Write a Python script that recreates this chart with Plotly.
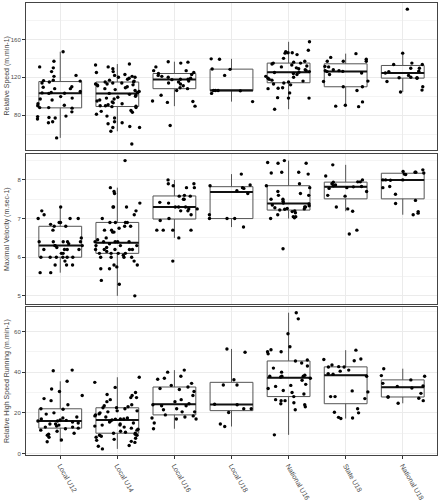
import numpy as np
import plotly.graph_objects as go

categories = ["Local U12", "Local U14", "Local U16", "Local U18",
              "National U16", "State U18", "National U18"]

# Panel 1: Relative Speed (m.min-1)
speed_local_u12 = [147, 137, 131, 130, 126, 122, 121, 117, 116.5, 116, 115, 114, 110, 109.5, 108, 108,
                   105, 104, 103.5, 103, 103.2, 99.6, 98, 97, 96, 92, 90.5, 90, 88, 88, 87.4, 83.5, 79,
                   78.5, 77.5, 77, 76, 73, 72, 56]
speed_local_u14 = [134, 133, 131, 129, 126, 125, 123, 122, 121, 120, 120, 119, 118, 117, 116, 115, 115,
                   114, 114, 113, 113, 112, 112, 111, 110, 109, 108, 107, 106, 105, 104, 103, 102, 101,
                   100, 99, 98, 97, 96, 95, 94, 93, 92, 91, 90, 90, 89, 88, 89.5, 85, 84, 83, 81, 79,
                   77, 73, 72, 71, 68, 67, 67, 63, 49.5]
speed_local_u16 = [136.5, 136, 135, 131, 127, 127, 125, 124, 123, 122, 121, 120, 119, 118, 118, 117.5,
                   116, 115, 114, 113, 111, 109, 108, 106, 101, 95, 94.5, 93.5, 89.5, 69]
speed_local_u18 = [139.5, 139, 128.7, 128.4, 122, 106, 106, 106, 105.7, 103, 94.3]
speed_national_u16 = [157.5, 148.5, 147, 146, 146, 145.5, 144, 140, 137, 136, 135, 135, 134, 133, 132,
                      131, 130, 129, 128, 127, 126, 125.3, 125, 124, 123, 121, 120, 119, 118, 117, 116,
                      115, 114, 113, 112, 109, 108.5, 108, 103.5, 98.5, 98, 98, 86.3]
speed_state_u18 = [145, 141, 139, 137, 137, 137, 131.5, 131, 128, 127, 127, 126.3, 126, 124.5, 123, 116,
                   115.5, 110, 110, 106, 94, 90.5, 89.5, 89]
speed_national_u18 = [192, 145.5, 135, 133.5, 133.5, 129.5, 129.5, 126.5, 126, 124.5, 122, 120, 119.5,
                      119.5, 119, 115.5, 110, 106.5, 104.5]

# Panel 2: Maximal Velocity (m.sec-1)
vel_local_u12 = [7.3, 7.2, 7.1, 7.0, 7.0, 7.0, 6.9, 6.9, 6.85, 6.8, 6.8, 6.7, 6.5, 6.4, 6.4, 6.4, 6.4,
                 6.4, 6.35, 6.3, 6.3, 6.3, 6.25, 6.2, 6.2, 6.2, 6.2, 6.1, 6.1, 6.0, 6.0, 6.0, 6.0, 6.0,
                 6.0, 5.9, 5.8, 5.8, 5.8, 5.6, 5.6]
vel_local_u14 = [8.5, 7.8, 7.7, 7.65, 7.4, 7.3, 7.3, 7.3, 7.2, 7.1, 7.0, 6.9, 6.9, 6.9, 6.9, 6.8, 6.8,
                 6.75, 6.7, 6.7, 6.65, 6.65, 6.5, 6.45, 6.4, 6.4, 6.4, 6.4, 6.4, 6.35, 6.3, 6.3, 6.3,
                 6.25, 6.2, 6.2, 6.2, 6.2, 6.2, 6.15, 6.1, 6.1, 6.1, 6.1, 6.05, 6.0, 6.0, 6.0, 6.0, 5.9,
                 5.8, 5.8, 5.75, 5.7, 5.7, 5.4, 5.3, 5.0]
vel_local_u16 = [8.0, 7.9, 7.9, 7.85, 7.8, 7.8, 7.6, 7.58, 7.58, 7.5, 7.5, 7.42, 7.4, 7.3, 7.3, 7.3,
                 7.25, 7.25, 7.2, 7.2, 7.1, 7.0, 6.95, 6.7, 6.7, 6.7, 6.7, 6.5, 5.9]
vel_local_u18 = [8.15, 7.87, 7.85, 7.8, 7.78, 7.72, 7.65, 7.1, 7.0, 7.0, 7.0, 6.78]
vel_national_u16 = [8.5, 8.45, 8.43, 8.43, 8.2, 8.2, 8.18, 8.15, 7.9, 7.85, 7.8, 7.7, 7.65, 7.6, 7.6,
                    7.5, 7.5, 7.45, 7.4, 7.38, 7.35, 7.33, 7.3, 7.3, 7.28, 7.26, 7.25, 7.24, 7.22, 7.2,
                    7.18, 7.15, 7.1, 7.05, 7.05, 7.02, 7.0, 6.22]
vel_state_u18 = [8.39, 8.1, 8.0, 7.95, 7.95, 7.94, 7.9, 7.87, 7.85, 7.83, 7.82, 7.8, 7.78, 7.7, 7.6,
                 7.58, 7.3, 7.25, 7.19, 6.7, 6.6]
vel_national_u18 = [8.26, 8.22, 8.2, 8.2, 8.18, 8.15, 8.14, 8.0, 8.0, 8.0, 7.99, 7.83, 7.8, 7.63, 7.47,
                    7.39, 7.18, 7.14, 7.1]

# Panel 3: Relative High Speed Running (m.min-1)
hsr_local_u12 = [41, 40.7, 35.5, 31.7, 30.5, 28.5, 27, 26, 24, 22, 21.8, 20, 19.4, 18, 17.5, 17, 16.5,
                 16.3, 16, 16, 15.5, 15, 14.5, 14.5, 14, 13.5, 13, 13, 12.5, 12.2, 11.5, 11, 10, 9.5, 9,
                 8, 6.7, 5.8]
hsr_local_u14 = [37.5, 35, 32.5, 30, 29, 28.5, 27.5, 27.5, 26.5, 25.5, 24, 23.5, 23, 22.5, 22.5, 22, 21,
                 21, 20.5, 20, 19.5, 19, 18.5, 18, 17.5, 17, 17, 16.9, 16.5, 16, 15.5, 15, 14.5, 14, 14,
                 13.5, 13, 12.5, 12, 11.5, 11, 10.5, 10, 10, 9.5, 9, 9, 8.5, 8, 7.5, 7, 6.5, 6, 5.5, 4,
                 3.6, 2.3]
hsr_local_u16 = [41, 40, 38, 37, 36.5, 34.5, 33.5, 32.7, 32, 31.5, 30.5, 28.5, 26.5, 25.5, 24.5, 24,
                 23.5, 23.5, 22, 21.5, 20.5, 20.5, 19, 18.5, 18, 17.5, 17, 17, 15, 12.2]
hsr_local_u18 = [51.4, 49.8, 36.3, 33.7, 33.7, 24.2, 24, 22, 22, 20.2, 14.5, 13.3]
hsr_national_u16 = [69.2, 66.2, 58.9, 52.5, 51, 50, 50, 49, 46, 45.5, 44.5, 43, 42, 40, 38.5, 38, 38,
                    38, 37.6, 37, 36, 34, 33.5, 33, 32, 31, 30, 29.3, 28, 26.5, 26, 26, 25, 24.5, 24,
                    23, 21.5, 9.2]
hsr_state_u18 = [50.8, 46.5, 46.2, 45.6, 43.5, 42.7, 42.5, 42.5, 41, 40.5, 39.3, 39, 38, 30.8, 30.3, 28,
                 28, 27, 22, 20.3, 20, 17.8, 17.5, 17.2]
hsr_national_u18 = [41.7, 38.3, 38, 36.2, 34.5, 33.2, 33, 32.2, 29.6, 27.8, 27.8, 27.2, 26, 24.7]

y_titles = ["Relative Speed (m.min-1)", "Maximal Velocity (m.sec-1)",
            "Relative High Speed Running (m.min-1)"]

panels = [
    [speed_local_u12, speed_local_u14, speed_local_u16, speed_local_u18,
     speed_national_u16, speed_state_u18, speed_national_u18],
    [vel_local_u12, vel_local_u14, vel_local_u16, vel_local_u18,
     vel_national_u16, vel_state_u18, vel_national_u18],
    [hsr_local_u12, hsr_local_u14, hsr_local_u16, hsr_local_u18,
     hsr_national_u16, hsr_state_u18, hsr_national_u18],
]
y_ranges = [[43.2, 198.5], [4.79, 8.67], [-0.7, 72]]
y_dticks = [40, 1, 20]
y_minor = [20, 0.5, 10]
domains = [[0.6748, 1.0], [0.3341, 0.6659], [0.0, 0.3274]]

FONT = "Liberation Sans, Arial, sans-serif"
BOX_W = 0.75
JIT = 0.4


def jitter_offsets(n, seed_a, seed_b):
    """Deterministic hash-based horizontal spread (like geom_jitter width=0.4)."""
    k = np.arange(1, n + 1, dtype=float)
    h = np.abs(np.sin(k * 12.9898 + seed_a * 78.233 + seed_b * 37.719) * 43758.5453)
    return (h - np.floor(h) - 0.5) * 2 * JIT


fig = go.Figure()
layout = dict(
    width=439, height=502,
    margin=dict(l=26, r=2, t=3, b=47),
    paper_bgcolor="white", plot_bgcolor="white",
    showlegend=False,
    font=dict(family=FONT, size=7, color="#4d4d4d"),
    annotations=[],
)

for p, groups in enumerate(panels):
    sfx = "" if p == 0 else str(p + 1)
    xa, ya = "x" + sfx, "y" + sfx
    xs, ys, xj = [], [], []
    for i, g in enumerate(groups):
        xs += [i] * len(g)
        ys += list(g)
        xj += list(i + jitter_offsets(len(g), i + 1, p + 1))
    fig.add_trace(go.Box(
        x=xs, y=ys, xaxis=xa, yaxis=ya, boxpoints="outliers", width=BOX_W,
        marker=dict(opacity=0, size=1),
        fillcolor="rgba(255,255,255,0)", line=dict(color="#555555", width=1),
        whiskerwidth=0, hoverinfo="skip", quartilemethod="linear"))
    for i, g in enumerate(groups):
        med = float(np.median(g))
        fig.add_trace(go.Scatter(
            x=[i - BOX_W / 2, i + BOX_W / 2], y=[med, med], mode="lines",
            xaxis=xa, yaxis=ya, line=dict(color="#111111", width=2), hoverinfo="skip"))
    fig.add_trace(go.Scatter(
        x=xj, y=ys, mode="markers", xaxis=xa, yaxis=ya,
        marker=dict(size=3.4, color="black", line=dict(width=0))))

    bottom = (p == 2)
    layout["xaxis" + sfx] = dict(
        domain=[0, 1], anchor=ya, range=[-0.6, 6.6],
        tickmode="array", tickvals=list(range(len(categories))), ticktext=categories,
        showticklabels=bottom, ticks="outside" if bottom else "", ticklen=3,
        tickcolor="#333333", tickangle=60,
        tickfont=dict(size=7, color="#4d4d4d", family=FONT),
        showgrid=True, gridcolor="#ebebeb", gridwidth=1, zeroline=False,
        showline=True, mirror=True, linecolor="#444444", linewidth=1,
        matches="x" if p > 0 else None,
    )
    layout["yaxis" + sfx] = dict(
        domain=domains[p], anchor=xa, range=y_ranges[p],
        tick0=0, dtick=y_dticks[p], ticks="outside", ticklen=3, tickcolor="#333333",
        tickfont=dict(size=6, color="#4d4d4d", family=FONT),
        showgrid=True, gridcolor="#ebebeb", gridwidth=1, zeroline=False,
        minor=dict(tick0=0, dtick=y_minor[p], showgrid=True, gridcolor="#f4f4f4", gridwidth=0.6,
                   ticks=""),
        showline=True, mirror=True, linecolor="#444444", linewidth=1,
    )
    layout["annotations"].append(dict(
        text=y_titles[p], xref="paper", yref="paper",
        x=(7 - 26) / 411, y=sum(domains[p]) / 2, textangle=-90,
        xanchor="center", yanchor="middle", showarrow=False,
        font=dict(size=7, color="#444444", family=FONT)))

fig.update_layout(**layout)
fig.write_html("out.html")
